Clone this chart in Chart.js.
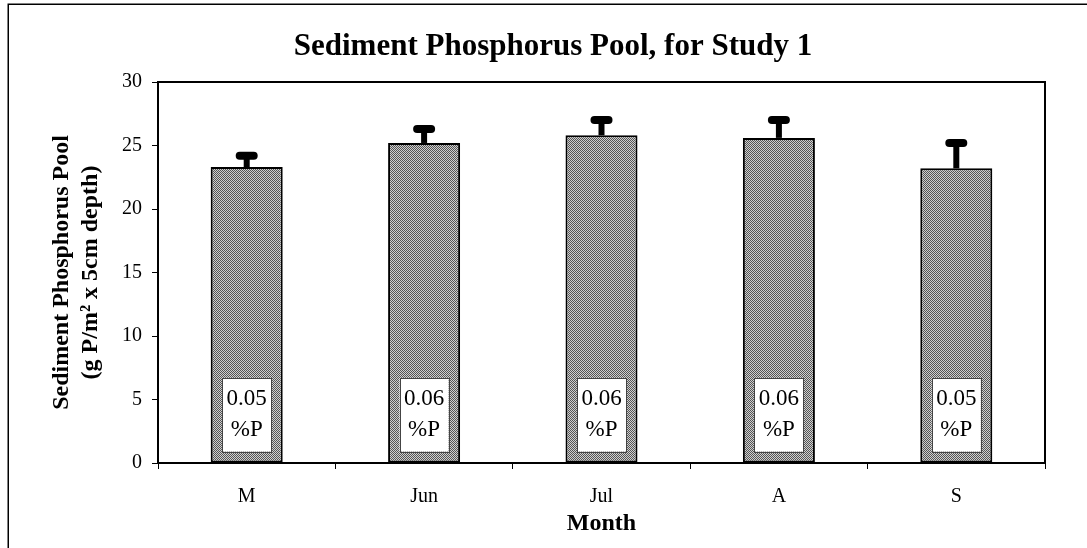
<!DOCTYPE html>
<html><head><meta charset="utf-8">
<script src="https://cdn.jsdelivr.net/npm/chart.js@4"></script>
<style>html,body{margin:0;padding:0;background:#fff}canvas{display:block}</style>
</head><body>
<canvas id="c" width="1087" height="548"></canvas>
<script>
// ---- data ----
const months = ['M', 'Jun', 'Jul', 'A', 'S'];
const poolValues = [23.3, 25.2, 25.8, 25.6, 23.2];
const poolErrors = [0.9, 1.1, 1.2, 1.4, 2.0];
const percentP = ['0.05', '0.06', '0.06', '0.06', '0.05'];
const yMin = 0, yMax = 30, yStep = 5;
const chartTitle = 'Sediment Phosphorus Pool, for Study 1';
const yTitle = ['Sediment Phosphorus Pool', '(g P/m\u00B2 x 5cm depth)'];
const xTitle = 'Month';

const SERIF = "'Liberation Serif', 'Times New Roman', serif";
Chart.defaults.color = '#000';
Chart.defaults.font.family = SERIF;

// checker pattern fill
function makePattern() {
  const p = document.createElement('canvas');
  p.width = 2; p.height = 2;
  const g = p.getContext('2d');
  g.fillStyle = '#cfcfcf'; g.fillRect(0, 0, 2, 2);
  g.fillStyle = '#555555'; g.fillRect(0, 0, 1, 1); g.fillRect(1, 1, 1, 1);
  return g.createPattern(p, 'repeat');
}
const ctx = document.getElementById('c').getContext('2d');

const decorPlugin = {
  id: 'decor',
  beforeDraw(chart) {
    const c = chart.ctx;
    c.save();
    c.fillStyle = '#fff';
    c.fillRect(0, 0, chart.width, chart.height);
    c.restore();
  },
  afterDatasetsDraw(chart) {
    const c = chart.ctx;
    const ys = chart.scales.y;
    const meta = chart.getDatasetMeta(0);
    c.save();
    meta.data.forEach((el, i) => {
      // label box
      const bTop = ys.getPixelForValue(6.7);
      const bBot = ys.getPixelForValue(0.9);
      const x = el.x;
      c.fillStyle = '#fff';
      c.fillRect(x - 24.5, bTop, 49, bBot - bTop);
      c.strokeStyle = '#444';
      c.lineWidth = 1;
      c.strokeRect(Math.round(x - 24.5) + 0.5, Math.round(bTop) + 0.5, 49, Math.round(bBot - bTop));
      c.fillStyle = '#000';
      c.font = '23px ' + SERIF;
      c.textAlign = 'center';
      c.textBaseline = 'middle';
      const mid = (bTop + bBot) / 2;
      c.fillText(percentP[i], x, mid - 15.5);
      c.fillText('%P', x, mid + 15.5);
      // error bar
      const yTop = el.y;
      const yErr = ys.getPixelForValue(poolValues[i] + poolErrors[i]);
      c.strokeStyle = '#000';
      c.lineCap = 'butt';
      c.lineWidth = 6;
      c.beginPath(); c.moveTo(x, yTop); c.lineTo(x, yErr); c.stroke();
      c.lineCap = 'round';
      c.lineWidth = 8;
      c.beginPath(); c.moveTo(x - 7, yErr); c.lineTo(x + 7, yErr); c.stroke();
    });
    c.restore();
  },
  afterDraw(chart) {
    const c = chart.ctx;
    const a = chart.chartArea;
    c.save();
    c.strokeStyle = '#000';
    c.lineWidth = 2;
    c.strokeRect(a.left, a.top, a.right - a.left, a.bottom - a.top);
    c.lineWidth = 1.5;
    c.strokeRect(8.25, 4.25, 1200, 700);
    // chart title
    c.fillStyle = '#000';
    c.font = 'bold 31px ' + SERIF;
    c.textAlign = 'center';
    c.textBaseline = 'middle';
    c.fillText(chartTitle, 553, 47);
    c.restore();
  }
};

new Chart(ctx, {
  type: 'bar',
  data: {
    labels: months,
    datasets: [{
      data: poolValues,
      backgroundColor: makePattern(),
      borderColor: '#000',
      borderWidth: 2,
      borderSkipped: false,
      categoryPercentage: 1,
      barPercentage: 0.406
    }]
  },
  plugins: [decorPlugin],
  options: {
    responsive: false,
    animation: false,
    layout: { padding: { left: 0, right: 42, top: 82, bottom: 0 } },
    plugins: {
      legend: { display: false },
      tooltip: { enabled: false },
      title: { display: false }
    },
    scales: {
      x: {
        afterFit(s) { s.height = 85; },
        grid: { drawOnChartArea: false, drawTicks: true, tickLength: 6, color: '#000', offset: true },
        border: { display: false },
        ticks: { color: '#000', font: { family: SERIF, size: 20 }, padding: 16 },
        title: {
          display: true, text: xTitle, color: '#000',
          font: { family: SERIF, size: 24, weight: 'bold' },
          padding: { top: 0, bottom: 10 }
        }
      },
      y: {
        min: yMin, max: yMax,
        afterFit(s) { s.width = 158; },
        grid: { drawOnChartArea: false, drawTicks: true, tickLength: 6, color: '#000' },
        border: { display: false },
        ticks: { stepSize: yStep, color: '#000', font: { family: SERIF, size: 20 }, padding: 10 },
        title: {
          display: true, text: yTitle, color: '#000',
          font: { family: SERIF, size: 24, weight: 'bold', lineHeight: 1.18 },
          padding: { top: 48, bottom: 0 }
        }
      }
    }
  }
});
</script>
</body></html>
